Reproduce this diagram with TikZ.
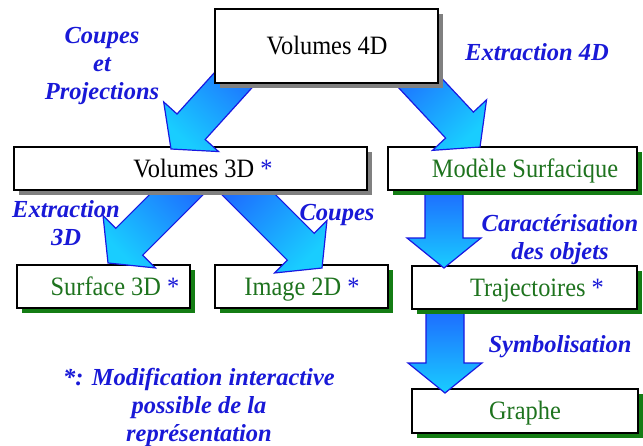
\documentclass[tikz,border=0pt]{standalone}
\usepackage{fontspec}
\setmainfont{Liberation Serif}
\newfontfamily\tnr{Liberation Serif}
\newfontfamily\tnrbox[FakeStretch=0.92]{Liberation Serif}
\usetikzlibrary{calc,shadows}
\definecolor{arrline}{RGB}{25,25,225}
\definecolor{arrtop}{RGB}{30,95,255}
\definecolor{arrbot}{RGB}{25,205,255}
\definecolor{lblblue}{RGB}{25,25,215}
\definecolor{txtgreen}{RGB}{30,115,30}
\definecolor{shgreen}{RGB}{20,125,20}
\definecolor{shgray}{RGB}{128,128,128}
\newcommand\blockarrow[3]{%
  \path ($(#2)!30pt!(#1)$) coordinate (hb);
  \path[bigarrow, shading angle=#3]
    ($(#1)!19pt!90:(#2)$) -- ($(hb)!19pt!-90:(#1)$) -- ($(hb)!37pt!-90:(#1)$) -- (#2)
    -- ($(hb)!37pt!90:(#1)$) -- ($(hb)!19pt!90:(#1)$) -- ($(#1)!19pt!-90:(#2)$) -- cycle;
}
\begin{document}
\begin{tikzpicture}[x=1pt,y=-1pt,
  boxbase/.style={draw=black, line width=1.4pt, fill=white, inner sep=0pt, rectangle},
  graybox/.style={boxbase, drop shadow={shadow xshift=5pt, shadow yshift=-5pt, fill=shgray, opacity=1}},
  greenbox/.style={boxbase, drop shadow={shadow xshift=5pt, shadow yshift=-5pt, fill=shgreen, opacity=1}},
  boxtext/.style={font=\tnrbox\fontsize{26.5}{30}\selectfont, anchor=base, inner sep=0pt},
  greentext/.style={boxtext, text=txtgreen},
  lbl/.style={font=\tnr\fontsize{24.5}{28}\selectfont\bfseries\itshape, text=lblblue, align=center, anchor=base, inner sep=0pt},
  bigarrow/.style={draw=arrline, line width=1.2pt, top color=arrtop, bottom color=arrbot, line join=miter}
]
\useasboundingbox (0,0) rectangle (643,445);
\newcommand\st{\textcolor{lblblue}{*}}

% lower boxes
\node[greenbox, minimum width=173pt, minimum height=43pt] (s3) at (103.5,286.5) {};
\node[greentext] (s3t) at (115,295) {Surface 3D \st};
\node[greenbox, minimum width=173pt, minimum height=43pt] (i2) at (301.5,286.5) {};
\node[greentext] (i2t) at (302,295) {Image 2D \st};
\node[greenbox, minimum width=226pt, minimum height=44pt] (gr) at (525,411) {};
\node[greentext] (grt) at (525,419.5) {Graphe};

% arrows into lower boxes
\coordinate (a3s) at (201,170); \coordinate (a3t) at (108,263);
\coordinate (a4s) at (224,170); \coordinate (a4t) at (322,268);
\coordinate (a6s) at (445,300); \coordinate (a6t) at (445,393);
\blockarrow{a3s}{a3t}{-45}
\blockarrow{a4s}{a4t}{45}
\blockarrow{a6s}{a6t}{0}

% middle boxes
\node[graybox, minimum width=353pt, minimum height=43pt] (v3) at (190.5,168.5) {};
\node[boxtext] (v3t) at (203,177) {Volumes 3D \st};
\node[greenbox, minimum width=225pt, minimum height=43pt] (tr) at (524.5,287.5) {};
\node[greentext] (trt) at (537,296) {Trajectoires \st};

\coordinate (a1s) at (256,55); \coordinate (a1t) at (171,149);
\coordinate (a5s) at (444,180); \coordinate (a5t) at (444,268);
\blockarrow{a1s}{a1t}{-42}
\blockarrow{a5s}{a5t}{0}

\node[greenbox, minimum width=249pt, minimum height=43pt] (ms) at (512.5,168.5) {};
\node[greentext] (mst) at (525,177) {Modèle Surfacique};

\coordinate (a2s) at (394,55); \coordinate (a2t) at (480,147);
\blockarrow{a2s}{a2t}{43}

\node[graybox, minimum width=223pt, minimum height=74pt] (v4) at (326.5,46) {};
\node[boxtext] (v4t) at (327,54.5) {Volumes 4D};

% labels (base = baseline of last line)
\node[lbl] (l1) at (102,99) {Coupes\\et\\Projections};
\node[lbl] (l2) at (537,60) {Extraction 4D};
\node[lbl] (l3) at (66,245) {Extraction\\3D};
\node[lbl] (l4) at (337,220) {Coupes};
\node[lbl] (l5) at (560,259) {Caractérisation\\des objets};
\node[lbl] (l6) at (560,352) {Symbolisation};
\node[lbl] (l7) at (199,441) {*: Modification interactive\\possible de la\\représentation};
\end{tikzpicture}
\end{document}
